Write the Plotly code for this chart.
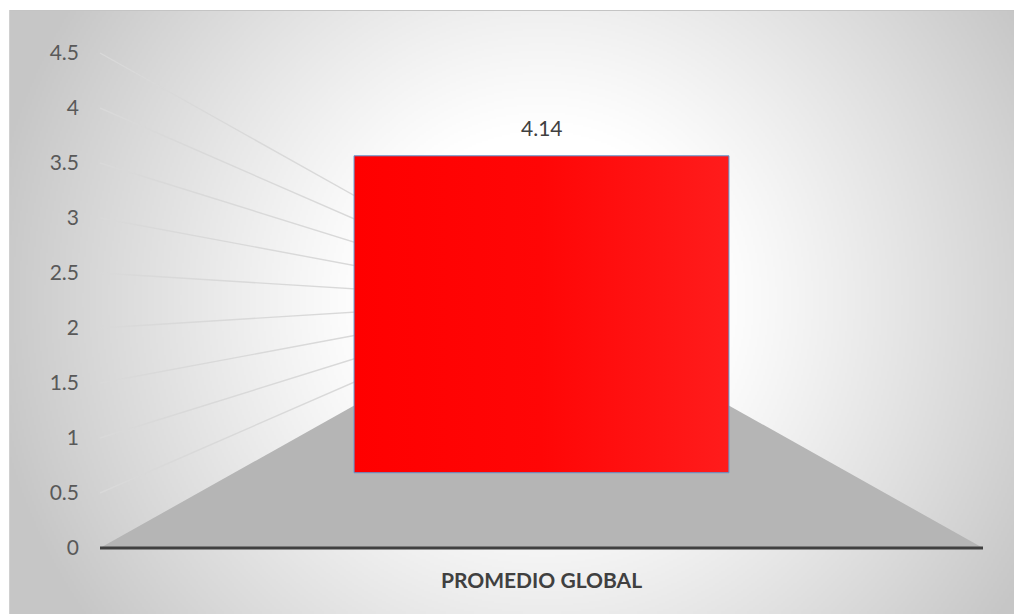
import base64
import struct
import zlib

import numpy as np
import plotly.graph_objects as go

# ---------------- data ----------------
CATEGORIES = ["PROMEDIO GLOBAL"]
VALUES = [4.14]
Y_TICKS = [0, 0.5, 1, 1.5, 2, 2.5, 3, 3.5, 4, 4.5]
Y_TICK_LABELS = ["0", "0.5", "1", "1.5", "2", "2.5", "3", "3.5", "4", "4.5"]

# ---------------- 3D perspective set-up (styles, not data) ----------------
Y_MIN, Y_MAX = Y_TICKS[0], Y_TICKS[-1]
V_MID = (Y_MIN + Y_MAX) / 2.0          # vanishing point height (data units)
FLOOR_HALF = 0.5                        # half width of the floor (category units)
BAR_HALF = 0.305                        # half width of the column (front-plane units)
S_BAR = 0.696                           # depth scale of the column front face
S_BACK = 0.30                           # depth scale of the back of the walls


def proj(X, v, s):
    """one-point perspective toward (0, V_MID)."""
    return s * X, V_MID + s * (v - V_MID)


# The page body has an 8px margin: lay out in screen pixels, then shift.
OFF = 8
SCR_W, SCR_H = 1022, 614
W, H = SCR_W - OFF, SCR_H - OFF
PLOT_L, PLOT_R, PLOT_T, PLOT_B = 90, 1012, 11, 560      # screen px
ML, MR, MT, MB = PLOT_L - OFF, SCR_W - PLOT_R, PLOT_T - OFF, SCR_H - PLOT_B
PW, PH = PLOT_R - PLOT_L, PLOT_B - PLOT_T
PX_PER_X = 883.0
PX_PER_V = 110.0
X0_PX = 541.5
V0_PY = 548.0
X_RANGE = [(PLOT_L - X0_PX) / PX_PER_X, (PLOT_R - X0_PX) / PX_PER_X]
Y_RANGE = [(V0_PY - PLOT_B) / PX_PER_V, (V0_PY - PLOT_T) / PX_PER_V]


# ---------------- background radial gradient image ----------------
def png_gray(arr):
    h, w = arr.shape
    raw = b"".join(b"\x00" + arr[i].tobytes() for i in range(h))

    def chunk(t, d):
        c = struct.pack(">I", len(d)) + t + d
        return c + struct.pack(">I", zlib.crc32(t + d) & 0xFFFFFFFF)

    return (b"\x89PNG\r\n\x1a\n"
            + chunk(b"IHDR", struct.pack(">IIBBBBB", w, h, 8, 0, 0, 0, 0))
            + chunk(b"IDAT", zlib.compress(raw, 9))
            + chunk(b"IEND", b""))


CA_X0, CA_Y0 = 9, 10                    # chart-area corner (screen px)
CA_W, CA_H = SCR_W - CA_X0, SCR_H - CA_Y0
scale = 2
gw, gh = CA_W // scale, CA_H // scale
gx = CA_X0 + (np.arange(gw) + 0.5) * scale
gy = CA_Y0 + (np.arange(gh) + 0.5) * scale
GX, GY = np.meshgrid(gx, gy)
d = np.sqrt((GX - 541.0) ** 2 + (GY - 300.0) ** 2)
t = np.clip((d - 170.0) / 390.0, 0, 1) ** 1.1
gray = np.clip(255 - 57 * t, 0, 255).astype(np.uint8)
bg_uri = "data:image/png;base64," + base64.b64encode(png_gray(gray)).decode()

fig = go.Figure()

# floor
fx, fy = [], []
for X, s in [(-FLOOR_HALF, 1), (FLOOR_HALF, 1), (FLOOR_HALF, S_BACK), (-FLOOR_HALF, S_BACK)]:
    px_, py_ = proj(X, Y_MIN, s)
    fx.append(px_)
    fy.append(py_)
fig.add_trace(go.Scatter(x=fx + fx[:1], y=fy + fy[:1], mode="lines", fill="toself",
                         fillcolor="#b5b5b5", line=dict(width=0), hoverinfo="skip",
                         showlegend=False))

# side-wall gridlines
for v in Y_TICKS[1:]:
    p0 = proj(-FLOOR_HALF, v, 1.0)
    p2 = proj(-FLOOR_HALF, v, S_BACK)
    fig.add_trace(go.Scatter(x=[p0[0], p2[0]], y=[p0[1], p2[1]], mode="lines",
                             line=dict(color="#d9d9d9", width=1.4), hoverinfo="skip",
                             showlegend=False))

# column front face
for i, (cat, val) in enumerate(zip(CATEGORIES, VALUES)):
    corners = [(-BAR_HALF, Y_MIN), (BAR_HALF, Y_MIN), (BAR_HALF, val), (-BAR_HALF, val)]
    bx, by = [], []
    for X, v in corners:
        px_, py_ = proj(X, v, S_BAR)
        bx.append(px_)
        by.append(py_)
    fig.add_trace(go.Scatter(
        x=bx + bx[:1], y=by + by[:1], mode="lines", fill="toself",
        fillgradient=dict(type="horizontal",
                          colorscale=[[0, "#ff0000"], [0.5, "#ff0606"], [1, "#ff1c1c"]]),
        line=dict(color="#5b9bd5", width=1), hoverinfo="skip", showlegend=False))
    tx, ty = proj(0, val, S_BAR)
    fig.add_annotation(x=tx, y=ty, text=f"{val:.2f}", showarrow=False,
                       yanchor="bottom", yshift=14,
                       font=dict(family="Lato", size=21, color="#404040"))

# front floor edge (category axis line)
e0 = proj(-FLOOR_HALF, Y_MIN, 1)
e1 = proj(FLOOR_HALF, Y_MIN, 1)
fig.add_trace(go.Scatter(x=[e0[0], e1[0]], y=[e0[1], e1[1]], mode="lines",
                         line=dict(color="#404040", width=3), hoverinfo="skip",
                         showlegend=False))

fig.add_layout_image(dict(
    source=bg_uri, xref="paper", yref="paper",
    x=(CA_X0 - PLOT_L) / PW, y=1 + (PLOT_T - CA_Y0) / PH,
    sizex=CA_W / PW, sizey=CA_H / PH,
    xanchor="left", yanchor="top", sizing="stretch", layer="below"))

# chart-area border (top and left)
fig.add_shape(type="line", xref="paper", yref="paper",
              x0=(CA_X0 - PLOT_L) / PW, x1=(SCR_W + 2 - PLOT_L) / PW,
              y0=1 + (PLOT_T - CA_Y0 - 0.5) / PH, y1=1 + (PLOT_T - CA_Y0 - 0.5) / PH,
              line=dict(color="#c4c4c4", width=1))
fig.add_shape(type="line", xref="paper", yref="paper",
              x0=(CA_X0 + 0.5 - PLOT_L) / PW, x1=(CA_X0 + 0.5 - PLOT_L) / PW,
              y0=(PLOT_B - SCR_H - 2) / PH, y1=1 + (PLOT_T - CA_Y0) / PH,
              line=dict(color="#d0d0d0", width=1))

fig.update_layout(
    width=W, height=H,
    margin=dict(l=ML, r=MR, t=MT, b=MB, pad=0),
    paper_bgcolor="white", plot_bgcolor="rgba(0,0,0,0)",
    showlegend=False,
    xaxis=dict(range=X_RANGE, showgrid=False, zeroline=False, showline=False,
               tickvals=[0], ticktext=[f"<b>{c}</b>" for c in CATEGORIES], ticks="",
               ticklabelstandoff=6,
               tickfont=dict(family="Lato", size=21, color="#404040"), fixedrange=True),
    yaxis=dict(range=Y_RANGE, showgrid=False, zeroline=False, showline=False,
               tickvals=Y_TICKS, ticktext=Y_TICK_LABELS, ticks="",
               ticklabelstandoff=10,
               tickfont=dict(family="Lato", size=21, color="#595959"), fixedrange=True),
)

fig.write_html("out.html")
